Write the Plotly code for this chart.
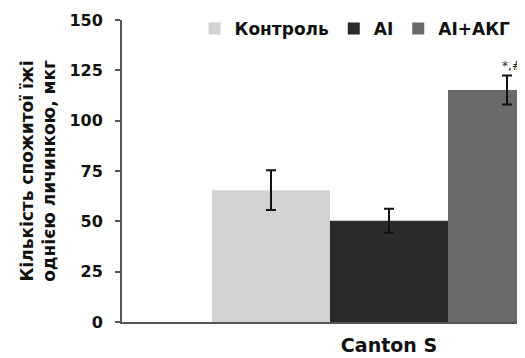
import plotly.graph_objects as go

categories = ["Canton S"]
series_names = ["Контроль", "AI", "AI+АКГ"]
values = [65.5, 50.3, 115.2]
errors = [9.9, 6.0, 7.2]
colors = ["#d2d2d2", "#2b2b2b", "#6a6a6a"]
y_ticks = [0, 25, 50, 75, 100, 125, 150]
y_title = "Кількість спожитої їжі<br>однією личинкою, мкг"
sig_label = "*,#"

FONT = "DejaVu Sans"

fig = go.Figure()
for name, v, e, c in zip(series_names, values, errors, colors):
    fig.add_trace(go.Bar(
        x=categories, y=[v], name=name,
        marker=dict(color=c, line=dict(width=0)),
        error_y=dict(type="data", array=[e], visible=True,
                     color="#111111", thickness=2, width=5),
    ))

fig.add_annotation(
    x=0.2, y=values[2] + errors[2], xref="x", yref="y",
    text=sig_label, showarrow=False, xanchor="center", yanchor="bottom",
    xshift=5, yshift=1, font=dict(family=FONT, size=12, color="#222222"),
)

# page body has an 8px margin, so the figure is sized to fill the rest of the window
fig.update_layout(
    width=517, height=350,
    margin=dict(l=114, r=0, t=12, b=36, autoexpand=False),
    paper_bgcolor="white", plot_bgcolor="white",
    barmode="group", bargap=0.4, bargroupgap=0,
    font=dict(family=FONT, color="#111111"),
    showlegend=True,
    legend=dict(orientation="h", x=0.18, xanchor="left", y=1.03, yanchor="top",
                font=dict(family=FONT, size=17, weight="bold", color="#111111"),
                bgcolor="rgba(0,0,0,0)", itemwidth=30),
    xaxis=dict(
        type="category", range=[-0.4525, 0.2305], automargin=False,
        showline=True, linecolor="#555555", linewidth=2,
        ticks="outside", ticklen=5, tickcolor="rgba(0,0,0,0)",
        tickfont=dict(family=FONT, size=19, weight="bold", color="#111111"),
        showgrid=False, zeroline=False,
    ),
    yaxis=dict(
        range=[0, 150], tickvals=y_ticks, automargin=False,
        showline=True, linecolor="#555555", linewidth=2,
        ticks="outside", ticklen=5, tickwidth=2, tickcolor="#555555",
        ticklabelstandoff=9,
        tickfont=dict(family=FONT, size=16, weight="bold", color="#111111"),
        showgrid=False, zeroline=False,
        title=dict(text=y_title, standoff=9,
                   font=dict(family=FONT, size=17, weight="bold", color="#111111")),
    ),
)

fig.write_html("out.html")
